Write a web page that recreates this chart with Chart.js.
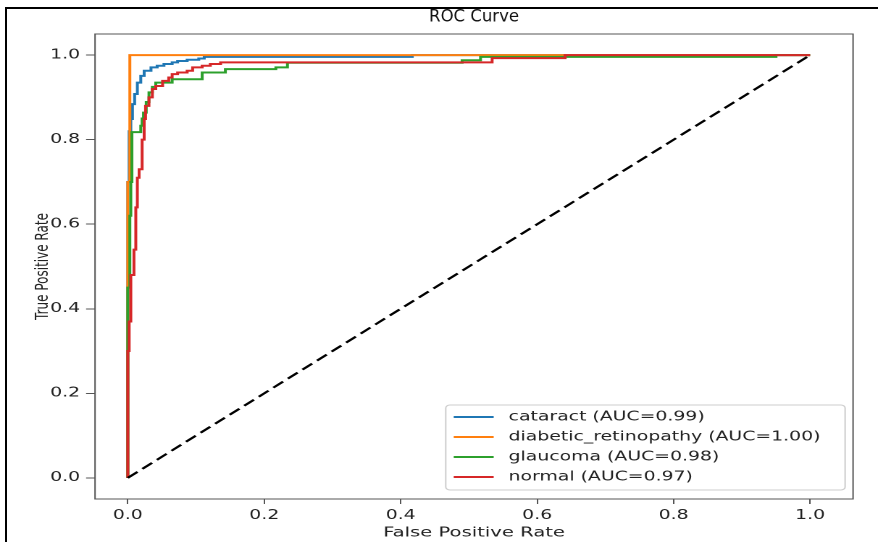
<!DOCTYPE html>
<html>
<head>
<meta charset="utf-8">
<title>ROC Curve</title>
<script src="https://cdn.jsdelivr.net/npm/chart.js@4.4.0/dist/chart.umd.min.js"></script>
<style>
  html, body { margin: 0; padding: 0; background: #fff; overflow: hidden; }
  /* the source picture is a wide-stretched matplotlib figure: draw narrow, then stretch */
  #wrap { position: absolute; left: 0; top: 0; width: 606px; height: 542px;
          transform: scaleX(1.4488); transform-origin: 0 0; }
  #frame { position: absolute; left: 5px; top: 7px; width: 900px; height: 600px;
           border-left: 2px solid #000; border-top: 2px solid #000; pointer-events: none; }
</style>
</head>
<body>
<div id="wrap"><canvas id="roc" width="606" height="542"></canvas></div>
<div id="frame"></div>
<script>
const FONT = "'DejaVu Sans', sans-serif";
const STRETCH = 1.4488;

const TICK_VALUES = [0, 0.2, 0.4, 0.6, 0.8, 1.0];
const TICK_LABELS = ["0.0", "0.2", "0.4", "0.6", "0.8", "1.0"];

const CLASS_NAMES = ["cataract", "diabetic_retinopathy", "glaucoma", "normal"];
const AUC_VALUES = [0.99, 1.0, 0.98, 0.97];
const COLORS = ["#1f77b4", "#ff7f0e", "#2ca02c", "#d62728"];

// each point = right end of a horizontal run (curve rises first, then moves right)
const CATARACT_FPR = [0, 0.002, 0.0044, 0.0068, 0.010, 0.014, 0.019, 0.024, 0.034, 0.043, 0.053, 0.065, 0.073, 0.087, 0.104, 0.112, 0.417, 1.0];
const CATARACT_TPR = [0, 0.70, 0.82, 0.849, 0.884, 0.908, 0.935, 0.951, 0.963, 0.971, 0.975, 0.979, 0.983, 0.986, 0.989, 0.992, 0.996, 1.0];

const DIABETIC_FPR = [0, 0.003, 1.0];
const DIABETIC_TPR = [0, 0.70, 1.0];

const GLAUCOMA_FPR = [0, 0.003, 0.0044, 0.006, 0.019, 0.021, 0.023, 0.027, 0.031, 0.036, 0.041, 0.065, 0.109, 0.143, 0.217, 0.234, 0.49, 0.517, 0.95, 1.0];
const GLAUCOMA_TPR = [0, 0.45, 0.62, 0.70, 0.818, 0.833, 0.85, 0.864, 0.889, 0.912, 0.925, 0.935, 0.943, 0.959, 0.967, 0.971, 0.982, 0.988, 0.996, 1.0];

const NORMAL_FPR = [0, 0.002, 0.0044, 0.009, 0.0117, 0.014, 0.0166, 0.021, 0.024, 0.026, 0.031, 0.036, 0.041, 0.051, 0.060, 0.065, 0.073, 0.087, 0.095, 0.109, 0.121, 0.136, 0.534, 0.641, 1.0];
const NORMAL_TPR = [0, 0.30, 0.37, 0.48, 0.54, 0.64, 0.71, 0.73, 0.80, 0.849, 0.88, 0.90, 0.92, 0.927, 0.939, 0.947, 0.955, 0.959, 0.963, 0.971, 0.975, 0.979, 0.983, 0.993, 1.0];

const CHANCE = [0, 1];

const ROC_SERIES = [
  [CATARACT_FPR, CATARACT_TPR],
  [DIABETIC_FPR, DIABETIC_TPR],
  [GLAUCOMA_FPR, GLAUCOMA_TPR],
  [NORMAL_FPR, NORMAL_TPR],
];

const toPoints = (xs, ys) => xs.map((x, i) => ({ x, y: ys[i] }));

const datasets = ROC_SERIES.map(([fpr, tpr], i) => ({
  label: `${CLASS_NAMES[i]} (AUC=${AUC_VALUES[i].toFixed(2)})`,
  data: toPoints(fpr, tpr),
  borderColor: COLORS[i],
  borderWidth: 2,
  stepped: "after",
  pointRadius: 0,
  fill: false,
  order: ROC_SERIES.length - i,
}));

datasets.push({
  label: "chance",
  data: toPoints(CHANCE, CHANCE),
  borderColor: "#000",
  borderWidth: 2,
  borderDash: [9, 4.5],
  pointRadius: 0,
  fill: false,
  order: 0,
});

/* full box round the axes, like matplotlib spines */
const frameSpines = {
  id: "frameSpines",
  afterDatasetsDraw(chart) {
    const { ctx, chartArea: a } = chart;
    ctx.save();
    ctx.strokeStyle = "#555";
    ctx.lineWidth = 1;
    ctx.strokeRect(a.left, a.top, a.right - a.left, a.bottom - a.top);
    ctx.restore();
  },
};

/* title centred over the plot area; it is not stretched in the source */
const axesTitle = {
  id: "axesTitle",
  afterDraw(chart) {
    const { ctx, chartArea: a } = chart;
    ctx.save();
    ctx.translate((a.left + a.right) / 2, 17);
    ctx.scale(1 / STRETCH, 1);
    ctx.font = `16.5px ${FONT}`;
    ctx.fillStyle = "#111";
    ctx.textAlign = "center";
    ctx.textBaseline = "middle";
    ctx.fillText("ROC Curve", 0, 0);
    ctx.restore();
  },
};

/* legend box inside the plot, lower right */
const innerLegend = {
  id: "innerLegend",
  afterDraw(chart) {
    const { ctx, chartArea: a } = chart;
    const items = chart.data.datasets.slice(0, CLASS_NAMES.length);
    ctx.save();
    ctx.font = `13px ${FONT}`;
    const maxW = Math.max(...items.map((d) => ctx.measureText(d.label).width));
    const padL = 5.5, handleW = 27.6, gap = 10.3, padR = 17;
    const rowH = 20, padTop = 12, boxH = 85;
    const boxW = padL + handleW + gap + maxW + padR;
    const right = a.right - 5.5;
    const bottom = a.bottom - 9;
    const left = right - boxW;
    const top = bottom - boxH;

    ctx.fillStyle = "rgba(255,255,255,0.8)";
    ctx.strokeStyle = "#cccccc";
    ctx.lineWidth = 1;
    ctx.beginPath();
    if (ctx.roundRect) ctx.roundRect(left, top, boxW, boxH, 3);
    else ctx.rect(left, top, boxW, boxH);
    ctx.fill();
    ctx.stroke();

    items.forEach((d, i) => {
      const y = top + padTop + i * rowH;
      ctx.strokeStyle = d.borderColor;
      ctx.lineWidth = 2;
      ctx.beginPath();
      ctx.moveTo(left + padL, y);
      ctx.lineTo(left + padL + handleW, y);
      ctx.stroke();
      ctx.fillStyle = "#222";
      ctx.textAlign = "left";
      ctx.textBaseline = "middle";
      ctx.fillText(d.label, left + padL + handleW + gap, y);
    });
    ctx.restore();
  },
};

const setTicks = (axis) => {
  axis.ticks = TICK_VALUES.map((value) => ({ value }));
};

new Chart(document.getElementById("roc"), {
  type: "line",
  data: { datasets },
  options: {
    responsive: false,
    devicePixelRatio: 2,
    animation: false,
    layout: { padding: { top: 34, right: 17.2, left: 0, bottom: 0 } },
    scales: {
      x: {
        type: "linear",
        min: -0.048,
        max: 1.063,
        afterBuildTicks: setTicks,
        afterFit: (axis) => { axis.height = 43; },
        grid: { display: true, drawOnChartArea: false, drawTicks: true, tickLength: 5, color: "#555" },
        border: { display: false },
        ticks: {
          autoSkip: false,
          maxRotation: 0,
          padding: 4,
          color: "#222",
          font: { family: FONT, size: 13 },
          callback: (v, i) => TICK_LABELS[i],
        },
        title: {
          display: true,
          text: "False Positive Rate",
          color: "#222",
          font: { family: FONT, size: 13.5 },
          padding: { top: 0, bottom: 1 },
        },
      },
      y: {
        type: "linear",
        min: -0.05,
        max: 1.05,
        afterBuildTicks: setTicks,
        afterFit: (axis) => { axis.width = 65.6; },
        grid: { display: true, drawOnChartArea: false, drawTicks: true, tickLength: 6.2, color: "#555" },
        border: { display: false },
        ticks: {
          autoSkip: false,
          padding: 4.1,
          color: "#222",
          font: { family: FONT, size: 13 },
          callback: (v, i) => TICK_LABELS[i],
        },
        title: {
          display: true,
          text: "True Positive Rate",
          color: "#222",
          font: { family: FONT, size: 12 },
          padding: { top: 22.5, bottom: 0 },
        },
      },
    },
    plugins: {
      legend: { display: false },
      title: { display: false },
      tooltip: { enabled: false },
    },
  },
  plugins: [frameSpines, axesTitle, innerLegend],
});
</script>
</body>
</html>
